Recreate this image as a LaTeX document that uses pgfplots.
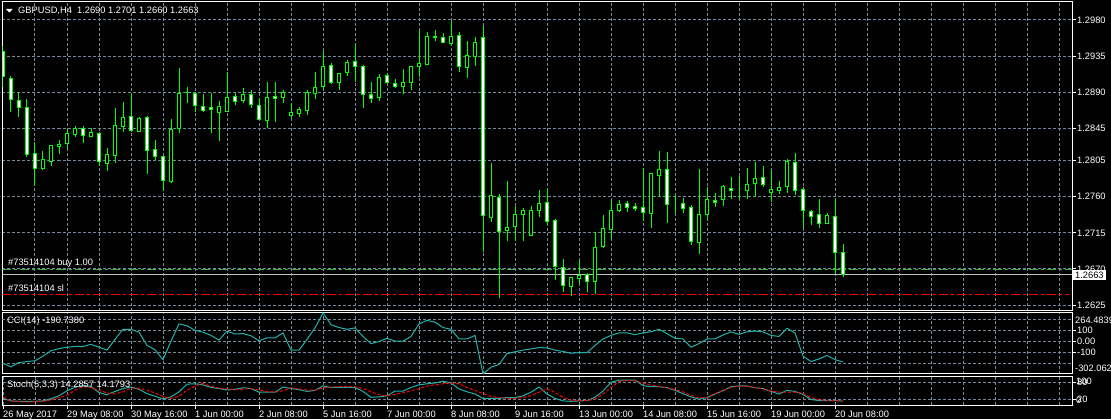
\documentclass[border=0pt]{standalone}
\usepackage{pgfplots}
\pgfplotsset{compat=1.18}
\usepackage{pgfplotstable}
\usepackage{fontspec}
\setmainfont{Liberation Sans}
\definecolor{candle}{RGB}{0,255,0}
\definecolor{gridc}{RGB}{119,136,153}
\definecolor{cci}{RGB}{32,178,170}
\definecolor{buyc}{RGB}{60,180,60}
\definecolor{bidc}{RGB}{192,192,192}
\newcommand\mtfont{\fontsize{9.3}{10}\selectfont}

\pgfplotstableread{
k o h l c
0 1.29405 1.29476 1.28970 1.29094
1 1.29074 1.29103 1.28658 1.28804
2 1.28792 1.28900 1.28589 1.28713
3 1.28713 1.28816 1.28091 1.28128
4 1.28140 1.28285 1.27737 1.27945
5 1.27949 1.28169 1.27933 1.28066
6 1.28041 1.28244 1.27986 1.28240
7 1.28231 1.28306 1.28132 1.28256
8 1.28265 1.28439 1.28198 1.28389
9 1.28372 1.28480 1.28347 1.28452
10 1.28452 1.28480 1.28265 1.28356
11 1.28352 1.28452 1.28343 1.28402
12 1.28389 1.28409 1.27982 1.28041
13 1.28016 1.28203 1.27924 1.28128
14 1.28115 1.28708 1.28023 1.28489
15 1.28472 1.28783 1.28409 1.28589
16 1.28601 1.28887 1.28406 1.28427
17 1.28409 1.28589 1.28406 1.28576
18 1.28589 1.28609 1.27886 1.28178
19 1.28190 1.28306 1.28057 1.28098
20 1.28103 1.28107 1.27675 1.27804
21 1.27787 1.28564 1.27767 1.28439
22 1.28452 1.29199 1.28397 1.28887
23 1.28900 1.28966 1.28767 1.28901
24 1.28887 1.28904 1.28651 1.28738
25 1.28726 1.28879 1.28651 1.28676
26 1.28713 1.28887 1.28397 1.28688
27 1.28651 1.28788 1.28290 1.28726
28 1.28663 1.29149 1.28651 1.28838
29 1.28850 1.28887 1.28738 1.28788
30 1.28800 1.28950 1.28763 1.28875
31 1.28875 1.28929 1.28701 1.28751
32 1.28738 1.28825 1.28559 1.28564
33 1.28551 1.29024 1.28452 1.28838
34 1.28850 1.29024 1.28534 1.28825
35 1.28838 1.28925 1.28763 1.28900
36 1.28614 1.28763 1.28576 1.28651
37 1.28638 1.28713 1.28589 1.28688
38 1.28676 1.28925 1.28614 1.28900
39 1.28882 1.29149 1.28813 1.28962
40 1.28975 1.29418 1.28925 1.29224
41 1.29236 1.29261 1.29000 1.29024
42 1.29024 1.29136 1.28925 1.29136
43 1.29149 1.29298 1.29099 1.29273
44 1.29286 1.29498 1.29024 1.29224
45 1.29224 1.29236 1.28708 1.28875
46 1.28875 1.29024 1.28763 1.28825
47 1.28838 1.29124 1.28788 1.29087
48 1.29112 1.29136 1.29012 1.29024
49 1.29012 1.29062 1.28950 1.28975
50 1.28975 1.29186 1.28875 1.29024
51 1.29024 1.29224 1.28925 1.29224
52 1.29224 1.29672 1.29087 1.29261
53 1.29249 1.29647 1.29249 1.29597
54 1.29585 1.29672 1.29535 1.29597
55 1.29585 1.29634 1.29510 1.29522
56 1.29510 1.29784 1.29476 1.29597
57 1.29610 1.29647 1.29149 1.29224
58 1.29211 1.29535 1.29074 1.29361
59 1.29348 1.29585 1.29224 1.29522
60 1.29585 1.29722 1.26915 1.27360
61 1.27344 1.28016 1.27281 1.27618
62 1.27593 1.27630 1.26335 1.27169
63 1.27177 1.27796 1.27052 1.27219
64 1.27227 1.27484 1.27052 1.27381
65 1.27381 1.27456 1.27052 1.27431
66 1.27120 1.27484 1.27120 1.27431
67 1.27431 1.27684 1.27351 1.27518
68 1.27530 1.27705 1.27248 1.27294
69 1.27306 1.27319 1.26563 1.26729
70 1.26721 1.26824 1.26417 1.26497
71 1.26480 1.26604 1.26368 1.26597
72 1.26579 1.26812 1.26522 1.26617
73 1.26634 1.26654 1.26410 1.26542
74 1.26542 1.27164 1.26389 1.26970
75 1.26978 1.27372 1.26965 1.27207
76 1.27194 1.27559 1.27073 1.27431
77 1.27426 1.27559 1.27410 1.27509
78 1.27518 1.27550 1.27410 1.27463
79 1.27481 1.27518 1.27418 1.27456
80 1.27468 1.27954 1.27301 1.27401
81 1.27393 1.27895 1.27214 1.27883
82 1.27867 1.28169 1.27600 1.27941
83 1.27941 1.28153 1.27276 1.27506
84 1.27513 1.27621 1.27393 1.27513
85 1.27518 1.27580 1.27393 1.27451
86 1.27468 1.27497 1.26999 1.27040
87 1.27027 1.27941 1.26887 1.27381
88 1.27376 1.27717 1.27310 1.27568
89 1.27555 1.27642 1.27468 1.27525
90 1.27568 1.27746 1.27488 1.27733
91 1.27705 1.27845 1.27571 1.27680
92 1.27675 1.27858 1.27571 1.27675
93 1.27680 1.27961 1.27571 1.27758
94 1.27767 1.28036 1.27600 1.27829
95 1.27842 1.27982 1.27717 1.27746
96 1.27655 1.27933 1.27530 1.27684
97 1.27680 1.27796 1.27630 1.27717
98 1.27725 1.28066 1.27650 1.28036
99 1.28028 1.28140 1.27621 1.27675
100 1.27692 1.27717 1.27214 1.27426
101 1.27418 1.27435 1.27248 1.27356
102 1.27381 1.27571 1.27214 1.27269
103 1.27269 1.27393 1.27269 1.27369
104 1.27356 1.27571 1.26634 1.26908
105 1.26900 1.27010 1.26600 1.26630
}\ohlc

\pgfplotstableread{
k v
0 -202.5
1 -235.7
2 -195.9
3 -185.9
4 -179.3
5 -136.1
6 -86.3
7 -66.4
8 -53.1
9 -46.5
10 -46.5
11 -26.6
12 -53.1
13 -79.7
14 19.9
15 112.9
16 112.9
17 86.3
18 -36.5
19 -76.4
20 -169.3
21 3.3
22 162.7
23 146.1
24 102.9
25 86.3
26 56.4
27 13.3
28 96.3
29 69.7
30 73.0
31 53.1
32 6.6
33 33.2
34 33.2
35 79.7
36 -79.7
37 -79.7
38 19.9
39 126.2
40 264.4
41 156.0
42 129.5
43 112.9
44 126.2
45 46.5
46 -19.9
47 0.0
48 29.9
49 3.3
50 3.3
51 46.5
52 162.7
53 195.9
54 179.3
55 129.5
56 112.9
57 23.2
58 23.2
59 56.4
60 -302.0
61 -239.0
62 -212.5
63 -112.9
64 -96.3
65 -79.7
66 -69.7
67 -56.4
68 -59.8
69 -79.7
70 -93.0
71 -109.6
72 -102.9
73 -102.9
74 -36.5
75 23.2
76 56.4
77 79.7
78 79.7
79 63.1
80 79.7
81 89.6
82 112.9
83 73.0
84 29.9
85 23.2
86 -53.1
87 -19.9
88 23.2
89 23.2
90 59.8
91 89.6
92 66.4
93 89.6
94 96.3
95 89.6
96 56.4
97 46.5
98 122.8
99 79.7
100 -136.1
101 -185.9
102 -162.7
103 -129.5
104 -169.3
105 -190.7
}\ccitab

\pgfplotstableread{
k m s
0 23.8 28.9
1 14.9 13.6
2 13.6 12.3
3 13.6 11.1
4 13.6 12.3
5 14.9 13.6
6 22.6 18.7
7 32.8 26.4
8 50.6 35.3
9 62.1 51.9
10 69.8 66.0
11 64.7 60.9
12 44.3 51.9
13 36.6 43.0
14 48.1 39.2
15 58.3 46.8
16 63.4 59.6
17 55.8 59.6
18 40.4 51.9
19 31.5 43.0
20 21.3 30.2
21 28.9 23.8
22 46.8 31.5
23 73.6 51.9
24 74.9 67.2
25 71.1 76.2
26 62.1 66.0
27 58.3 59.6
28 53.2 57.0
29 55.8 54.5
30 60.9 55.8
31 58.3 58.3
32 45.5 53.2
33 45.5 48.1
34 45.5 45.5
35 63.4 50.6
36 58.3 60.9
37 54.5 57.0
38 48.1 53.2
39 51.9 51.9
40 67.2 60.9
41 62.1 63.4
42 62.1 64.7
43 62.1 64.7
44 62.1 64.7
45 48.1 58.3
46 27.7 46.8
47 28.9 36.6
48 32.8 32.8
49 49.4 37.9
50 49.4 43.0
51 62.1 50.6
52 71.1 57.0
53 74.9 67.2
54 77.5 71.1
55 83.9 74.9
56 77.5 77.5
57 57.0 74.9
58 46.8 62.1
59 39.2 51.9
60 23.8 40.4
61 23.8 30.2
62 23.8 26.4
63 26.4 23.8
64 26.4 23.8
65 32.8 26.4
66 45.5 34.0
67 63.4 45.5
68 39.2 57.0
69 23.8 45.5
70 14.9 27.7
71 13.6 17.4
72 14.9 16.2
73 16.2 16.2
74 27.7 21.3
75 49.4 39.2
76 80.0 62.1
77 87.7 82.6
78 87.7 86.4
79 87.7 85.1
80 68.5 77.5
81 64.7 69.8
82 64.7 66.0
83 60.9 60.9
84 51.9 54.5
85 40.4 46.8
86 28.9 34.0
87 21.3 25.1
88 26.4 27.7
89 39.2 40.4
90 50.6 51.9
91 64.7 62.1
92 67.2 66.0
93 67.2 67.2
94 60.9 62.1
95 58.3 55.8
96 48.1 49.4
97 39.2 45.5
98 51.9 45.5
99 48.1 45.5
100 37.9 41.7
101 20.0 26.4
102 16.2 18.7
103 16.2 16.2
104 16.2 16.2
105 14.29 14.18
}\stochtab

\pgfplotsset{
  panel/.style={
    scale only axis, anchor=south west,
    width=1069.5pt,
    xmin=-0.0625, xmax=133.625,
    axis line style={white, line width=1pt},
    tick style={white, line width=1pt},
    grid style={gridc, line width=1pt, dash pattern=on 3pt off 2pt},
    major grid style={gridc, line width=1pt, dash pattern=on 3pt off 2pt},
    xtick={0,4,...,132}, xtick style={draw=none},
    xmajorgrids, ymajorgrids,
    ytick pos=right, yticklabel pos=right,
    tick align=outside, major tick length=4pt,
    tick label style={font=\mtfont, text=white},
    yticklabel style={inner sep=1pt},
  },
  nolabels/.style={xticklabel={\relax}, xticklabel style={text opacity=0}},
}

\begin{document}
\begin{tikzpicture}
\useasboundingbox (0pt,0pt) rectangle (1111pt,419pt);
\fill[black] (0pt,0pt) rectangle (1111pt,419pt);

% ---------- main price panel: grid, lines, wicks
\begin{axis}[panel, nolabels, at={(2.5pt,108pt)}, height=309pt,
  ymin=1.26177, ymax=1.30024,
  ytick={1.2625,1.2670,1.2715,1.2760,1.2805,1.2845,1.2890,1.2935,1.2980},
  yticklabels={1.2625,1.2670,1.2715,1.2760,1.2805,1.2845,1.2890,1.2935,1.2980}]
\addplot[buyc, line width=1pt, dash pattern=on 9pt off 3pt on 3pt off 3pt] coordinates {(-0.0625,1.26696) (133.625,1.26696)};
\addplot[red, line width=1pt, dash pattern=on 9pt off 3pt on 3pt off 3pt] coordinates {(-0.0625,1.26385) (133.2,1.26385)};
\addplot[bidc, line width=1pt] coordinates {(-0.0625,1.2663) (133.625,1.2663)};
\addplot[draw=none, mark=none,
  error bars/.cd, y dir=plus, y explicit, error mark=none,
  error bar style={draw=candle, line width=1pt, solid}]
  table[x=k, y=l, y error expr=\thisrow{h}-\thisrow{l}] {\ohlc};
\end{axis}

% ---------- candle bodies
\begin{axis}[at={(2.5pt,108pt)}, anchor=south west, scale only axis,
  width=1069.5pt, height=309pt,
  xmin=-0.0625, xmax=133.625, ymin=1.26177, ymax=1.30024,
  hide axis, ybar stacked, bar width=3.8pt]
\addplot[draw=none, fill=none] table[x=k, y expr={min(\thisrow{o},\thisrow{c})}] {\ohlc};
\addplot[draw=candle, fill=black, line width=1pt] table[x=k, y expr={max(\thisrow{c}-\thisrow{o},0)}] {\ohlc};
\addplot[draw=candle, fill=white, line width=1pt] table[x=k, y expr={max(\thisrow{o}-\thisrow{c},0)}] {\ohlc};
\end{axis}

% ---------- CCI panel
\begin{axis}[panel, nolabels, at={(2.5pt,45pt)}, height=61pt,
  ymin=-302.062, ymax=264.4839,
  ytick={-100,0,100}, yticklabels={-100,0.00,100},
  extra y ticks={-200,200}, extra y tick labels={},
  extra y tick style={major tick length=0pt}]
\addplot[cci, line width=1pt] table[x=k, y=v] {\ccitab};
\end{axis}

% ---------- Stochastic panel
\begin{axis}[panel, at={(2.5pt,13.8pt)}, height=28.6pt,
  ymin=0, ymax=100, ytick={20,80}, yticklabels={20,80},
  xtick={0,8,...,104},
  xticklabels={26 May 2017,29 May 08:00,30 May 16:00,1 Jun 00:00,2 Jun 08:00,5 Jun 16:00,7 Jun 00:00,8 Jun 08:00,9 Jun 16:00,13 Jun 00:00,14 Jun 08:00,15 Jun 16:00,19 Jun 00:00,20 Jun 08:00},
  xtick style={draw=white, line width=1pt}, xtick pos=bottom,
  xticklabel style={anchor=north west, inner sep=0pt, yshift=-1.5pt},
  minor xtick={4,8,...,132}, xminorgrids, minor tick length=0pt,
  minor grid style={gridc, line width=1pt, dash pattern=on 3pt off 2pt}]
\addplot[cci, line width=1pt] table[x=k, y=m] {\stochtab};
\addplot[red, line width=1pt, dash pattern=on 3pt off 2pt] table[x=k, y=s] {\stochtab};
\end{axis}

% ---------- texts
\fill[white] (6pt,410pt) -- (12.7pt,410pt) -- (9.35pt,406.5pt) -- cycle;
\node[anchor=west, inner sep=0pt, text=white, font=\mtfont] at (18pt,408.5pt) {GBPUSD,H4\ \ 1.2690 1.2701 1.2660 1.2663};
\node[anchor=west, inner sep=0pt, text=white, font=\mtfont] at (8pt,156pt) {\#73514104 buy 1.00};
\node[anchor=west, inner sep=0pt, text=white, font=\mtfont] at (8pt,131pt) {\#73514104 sl};
\node[anchor=west, inner sep=0pt, text=white, font=\mtfont] at (7pt,98pt) {CCI(14) -190.7380};
\node[anchor=west, inner sep=0pt, text=white, font=\mtfont] at (7pt,34pt) {Stoch(5,3,3) 14.2857 14.1793};
\node[anchor=west, inner sep=0pt, text=white, font=\mtfont] at (1075pt,99pt) {264.4839};
\node[anchor=west, inner sep=0pt, text=white, font=\mtfont] at (1075pt,51pt) {-302.062};
\node[anchor=west, inner sep=0pt, text=white, font=\mtfont] at (1076pt,38pt) {100};
\node[anchor=west, inner sep=0pt, text=white, font=\mtfont] at (1076pt,19pt) {0};
\node[anchor=west, fill=white, text=black, inner xsep=2pt, inner ysep=1.5pt, font=\mtfont] at (1073pt,144pt) {1.2663};
\end{tikzpicture}
\end{document}
